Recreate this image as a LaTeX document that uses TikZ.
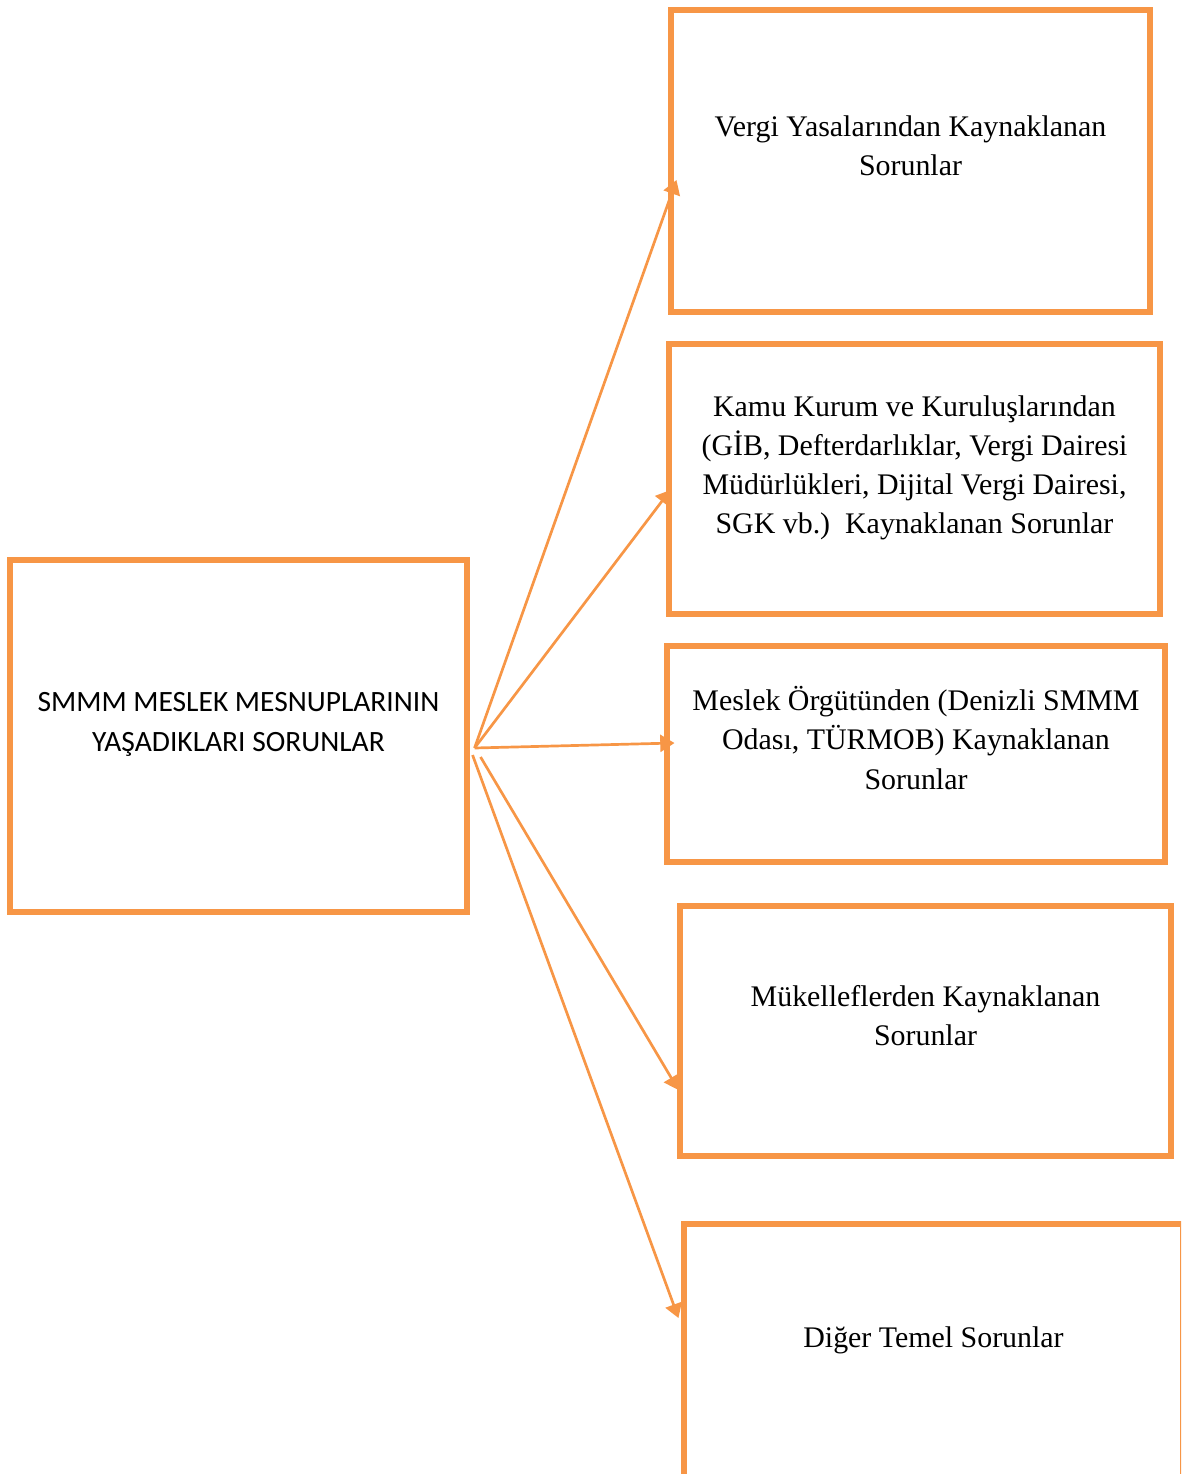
\documentclass[tikz,border=0pt]{standalone}
\usepackage{fontspec}
\setmainfont{Liberation Serif}
\newfontfamily\calibri{Carlito}
\usetikzlibrary{calc, arrows.meta}
\definecolor{turuncu}{HTML}{F79646}

\begin{document}
\begin{tikzpicture}[x=0.3528pt, y=-0.3528pt,
  kutu/.style 2 args={draw=turuncu, line width=1.8pt, rectangle, inner sep=0pt,
    minimum width=#1*0.3528pt, minimum height=#2*0.3528pt},
  yazi/.style={align=center, font=\fontsize{10.55}{13.8}\selectfont},
  ok/.style={draw=turuncu, line width=0.95pt, -{Triangle[length=5pt,width=6pt]}}]
\useasboundingbox (0,0) rectangle (1181,1474);
\clip (0,0) rectangle (1181,1474);

% kutular
\node[kutu={457}{352}] (sorun) at (238.5,736) {};
\node[kutu={479}{302}] (vergi) at (910.5,161) {};
\node[kutu={491}{270}] (kamu) at (914.5,479) {};
\node[kutu={498}{216}] (meslek) at (916,754) {};
\node[kutu={491}{250}] (mukellef) at (925.5,1031) {};
\node[kutu={499}{256}] (diger) at (933.5,1352) {};

% yazilar
\node[yazi, font=\calibri\fontsize{10.4}{14.1}\selectfont] (sorunyazi) at ($(sorun.center)+(0,-12)$)
  {SMMM MESLEK MESNUPLARININ\\YAŞADIKLARI SORUNLAR};
\node[yazi] (vergiyazi) at ($(vergi.center)+(0,-15)$) {Vergi Yasalarından Kaynaklanan\\Sorunlar};
\node[yazi] (kamuyazi) at ($(kamu.center)+(0,-11)$)
  {Kamu Kurum ve Kuruluşlarından\\(GİB, Defterdarlıklar, Vergi Dairesi\\Müdürlükleri, Dijital Vergi Dairesi,\\SGK vb.)\ \ Kaynaklanan Sorunlar};
\node[yazi] (meslekyazi) at ($(meslek.center)+(0,-16)$)
  {Meslek Örgütünden (Denizli SMMM\\Odası, TÜRMOB) Kaynaklanan\\Sorunlar};
\node[yazi] (mukellefyazi) at ($(mukellef.center)+(0,-15)$) {Mükelleflerden Kaynaklanan\\Sorunlar};
\node[yazi] (digeryazi) at ($(diger.center)+(0,-12)$) {Diğer Temel Sorunlar};

% oklar
\coordinate (cikis) at ($(sorun.east)+(5,12)$);
\coordinate (cikisa) at ($(sorun.east)+(11,21)$);
\coordinate (cikisb) at ($(sorun.east)+(3,19)$);
\draw[ok] (cikis) -- ($(vergi.west)+(8,19)$);
\draw[ok] (cikis) -- ($(kamu.west)+(4,11)$);
\draw[ok] (cikis) -- ($(meslek.west)+(10,-11)$);
\draw[ok] (cikisa) -- ($(mukellef.west)+(1,59)$);
\draw[ok] (cikisb) -- ($(diger.west)+(-3,-34)$);
\end{tikzpicture}
\end{document}
